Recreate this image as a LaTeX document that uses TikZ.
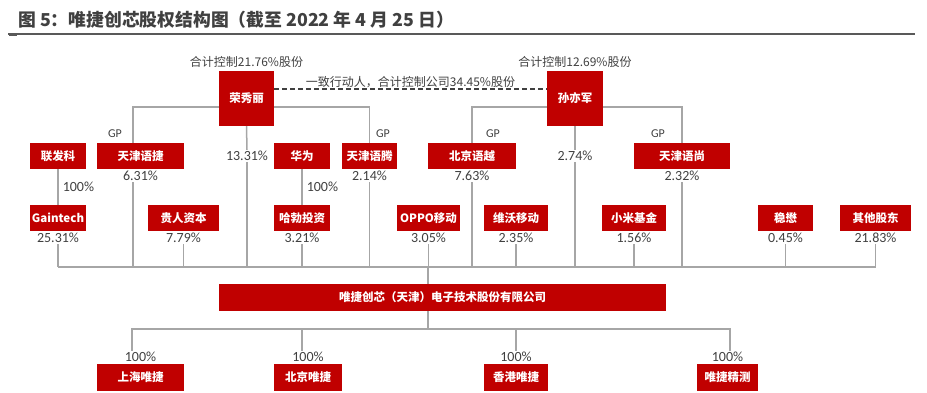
\documentclass[tikz,border=0pt]{standalone}
\usepackage{fontspec}
\setmainfont{Noto Sans CJK SC}
\newfontfamily\numfont{Carlito}
\usepackage{xcolor}
\usetikzlibrary{calc, positioning}
\definecolor{boxred}{HTML}{C00000}
\definecolor{linegray}{HTML}{A6A6A6}
\definecolor{txtgray}{HTML}{404040}
\definecolor{rulegray}{HTML}{595959}

\begin{document}
\begin{tikzpicture}[x=1pt, y=-1pt,
    redbox/.style={fill=boxred, text=white, font=\bfseries\fontsize{11.5}{12}\selectfont,
        inner sep=0pt, minimum height=26pt},
    pct/.style={text=txtgray, font=\numfont\fontsize{14}{14}\selectfont, inner sep=1pt},
    note/.style={text=txtgray, font=\fontsize{12}{13}\selectfont, inner sep=1pt},
    link/.style={draw=linegray, line width=1.5pt},
    tie/.style={draw=txtgray, line width=1.2pt, dash pattern=on 5pt off 3pt}]
    \useasboundingbox (0,0) rectangle (927,392);

    % 1. Tieu de
    \node[anchor=west, text=txtgray, font=\bfseries\fontsize{17.8}{19}\selectfont, inner sep=0pt]
        (title) at (18,20) {图 5：唯捷创芯股权结构图（截至 2022 年 4 月 25 日）};
    \draw[draw=rulegray, line width=1.2pt] (8,34) -- (915,34);
    \draw[draw=rulegray, line width=2.5pt] (9,35) -- (17,35);

    % 2. Hai nguoi kiem soat
    \node[redbox, minimum width=55pt, minimum height=55pt] (rong) at (246.5,98.5) {荣秀丽};
    \node[redbox, minimum width=56pt, minimum height=55pt] (sun) at (575,98.5) {孙亦军};
    \node[note, above=2pt of rong] (rongN) {合计控制21.76\%股份};
    \node[note, above=2pt of sun] (sunN) {合计控制12.69\%股份};
    \coordinate (tieY) at (0,89);
    \draw[tie] (rong.east |- tieY) -- node[note, above=0pt] (tieN)
        {一致行动人，合计控制公司34.45\%股份} (sun.west |- tieY);

    % 3. Hang thu nhat
    \node[redbox, minimum width=56pt] (lfk) at (58,156) {联发科};
    \node[redbox, minimum width=87pt] (tjyj) at (140.5,156) {天津语捷};
    \node[redbox, minimum width=56pt] (hw) at (302,156) {华为};
    \node[redbox, minimum width=55pt] (tjyt) at (369.5,156) {天津语腾};
    \node[redbox, minimum width=88pt] (bjyy) at (472,156) {北京语越};
    \node[redbox, minimum width=96pt] (tjys) at (682,156) {天津语尚};
    \node[pct] (pRong) at (247,156) {13.31\%};
    \node[pct] (pSun) at (575,156) {2.74\%};
    \node[pct, below=1pt of tjyj] (pTjyj) {6.31\%};
    \node[pct, below=1pt of tjyt] (pTjyt) {2.14\%};
    \node[pct, below=1pt of bjyy] (pBjyy) {7.63\%};
    \node[pct, below=1pt of tjys] (pTjys) {2.32\%};
    \node[pct, font=\numfont\fontsize{12}{12}\selectfont] (gp1) at (115,134) {GP};
    \node[pct, font=\numfont\fontsize{12}{12}\selectfont] (gp2) at (383,134) {GP};
    \node[pct, font=\numfont\fontsize{12}{12}\selectfont] (gp3) at (493,134) {GP};
    \node[pct, font=\numfont\fontsize{12}{12}\selectfont] (gp4) at (658,134) {GP};

    % 4. Hang thu hai
    \node[redbox, minimum width=56pt] (gain) at (58,218) {Gaintech};
    \node[redbox, minimum width=71pt] (grzb) at (183.5,218) {贵人资本};
    \node[redbox, minimum width=56pt] (hbtz) at (302,218) {哈勃投资};
    \node[redbox, minimum width=63pt] (oppo) at (428.5,218) {OPPO移动};
    \node[redbox, minimum width=64pt] (vivo) at (516,218) {维沃移动};
    \node[redbox, minimum width=64pt] (xmjj) at (634,218) {小米基金};
    \node[redbox, minimum width=55pt] (wm) at (785.5,218) {稳懋};
    \node[redbox, minimum width=71pt] (qita) at (875.5,218) {其他股东};
    \node[pct, below=1pt of gain] (pGain) {25.31\%};
    \node[pct, below=1pt of grzb] (pGrzb) {7.79\%};
    \node[pct, below=1pt of hbtz] (pHbtz) {3.21\%};
    \node[pct, below=1pt of oppo] (pOppo) {3.05\%};
    \node[pct, below=1pt of vivo] (pVivo) {2.35\%};
    \node[pct, below=1pt of xmjj] (pXmjj) {1.56\%};
    \node[pct, below=1pt of wm] (pWm) {0.45\%};
    \node[pct, below=1pt of qita] (pQita) {21.83\%};

    % 5. Cong ty chinh va cong ty con
    \node[redbox, minimum width=447pt, minimum height=27pt] (main) at (442.5,297.5)
        {唯捷创芯（天津）电子技术股份有限公司};
    \node[redbox, minimum width=87pt, minimum height=27pt] (sh) at (140.5,377.5) {上海唯捷};
    \node[redbox, minimum width=68pt, minimum height=27pt] (bj) at (308,377.5) {北京唯捷};
    \node[redbox, minimum width=64pt, minimum height=27pt] (hk) at (516,377.5) {香港唯捷};
    \node[redbox, minimum width=61pt, minimum height=27pt] (jc) at (727.5,377.5) {唯捷精测};
    \node[pct, above=1pt of sh] (pSh) {100\%};
    \node[pct, above=1pt of bj] (pBj) {100\%};
    \node[pct, above=1pt of hk] (pHk) {100\%};
    \node[pct, above=1pt of jc] (pJc) {100\%};

    % 6. Duong noi
    \coordinate (rongL) at (133,107);
    \coordinate (sunY) at (0,107);
    \coordinate (bus) at (428,267);
    \coordinate (bus2) at (428,329);
    \draw[link] (rong.west |- rongL) -- (rongL) -- (rongL |- tjyj.north);
    \draw[link] (rong.east |- rongL) -| (tjyt.north);
    \draw[link] (sun.west |- sunY) -| (bjyy.north);
    \draw[link] (sun.east |- sunY) -| (tjys.north);
    \draw[link] (rong.south) -- (pRong.north);
    \draw[link] (sun.south) -- (pSun.north);
    \draw[link] (lfk) -- node[pct, right=3pt] (pLfk) {100\%} (gain);
    \draw[link] (hw) -- node[pct, right=3pt] (pHw) {100\%} (hbtz);

    \draw[link] (pGain.south |- bus) -- (pQita.south |- bus);
    \draw[link] (pTjyj.south -| rongL) -- (rongL |- bus);
    \foreach \p in {pRong, pTjyt, pBjyy, pSun, pTjys, pGain, pGrzb, pHbtz,
        pOppo, pVivo, pXmjj, pWm, pQita}
        \draw[link] (\p.south) -- (\p.south |- bus);
    \draw[link] (bus) -- (bus |- main.north);

    \draw[link] (bus |- main.south) -- (bus2);
    \draw[link] (pSh.north -| 132,0) -- (132,329) -- (730,329) -- (pJc.north -| 730,0);
    \draw[link] (pBj.north -| 302,0) -- (302,329);
    \draw[link] (pHk.north) -- (pHk.north |- bus2);
\end{tikzpicture}
\end{document}
